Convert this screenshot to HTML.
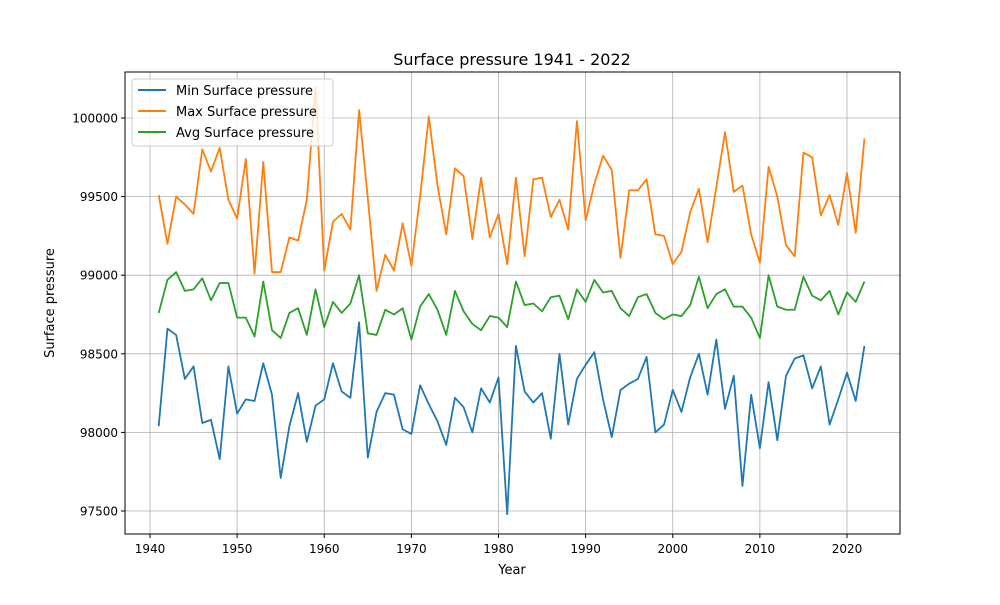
<!DOCTYPE html>
<html><head><meta charset="utf-8"><style>
body{margin:0;background:#fff;font-family:"Liberation Sans","DejaVu Sans",sans-serif}
svg text{font-family:"DejaVu Sans","Liberation Sans",sans-serif}
</style></head><body>
<svg id="chart" width="1000" height="600" xmlns="http://www.w3.org/2000/svg">
<rect width="1000" height="600" fill="#fff"/>
<g id="grid"></g>
<g id="series"></g>
<rect x="125" y="72" width="775" height="462" fill="none" stroke="#000" stroke-width="1"/>
<g id="ticks"></g>
<text x="512" y="65" text-anchor="middle" font-size="16">Surface pressure 1941 - 2022</text>
<text x="512" y="574" text-anchor="middle" font-size="13">Year</text>
<text transform="translate(54,303) rotate(-90)" text-anchor="middle" font-size="13">Surface pressure</text>
<g>
<rect x="132" y="79" width="201" height="67" rx="3" fill="#fff" fill-opacity="0.8" stroke="#ccc"/>
<line x1="138" y1="90" x2="166" y2="90" stroke="#1f77b4" stroke-width="2"/>
<text x="176" y="95" font-size="13">Min Surface pressure</text>
<line x1="138" y1="111" x2="166" y2="111" stroke="#ff7f0e" stroke-width="2"/>
<text x="176" y="116" font-size="13">Max Surface pressure</text>
<line x1="138" y1="132" x2="166" y2="132" stroke="#2ca02c" stroke-width="2"/>
<text x="176" y="137" font-size="13">Avg Surface pressure</text>
</g>
</svg>
<script>
const startYear = 1941;
const minValues = [98040,98660,98620,98340,98420,98060,98080,97830,98420,98120,98210,98200,98440,98240,97710,98040,98250,97940,98170,98210,98440,98260,98220,98700,97840,98130,98250,98240,98020,97990,98300,98180,98070,97920,98220,98160,98000,98280,98190,98350,97480,98550,98260,98190,98250,97960,98500,98050,98340,98430,98510,98210,97970,98270,98310,98340,98480,98000,98050,98270,98130,98350,98500,98240,98590,98150,98360,97660,98240,97900,98320,97950,98360,98470,98490,98280,98420,98050,98210,98380,98200,98550];
const maxValues = [99510,99200,99500,99450,99390,99800,99660,99810,99480,99360,99740,99010,99720,99020,99020,99240,99220,99480,100200,99030,99340,99390,99290,100050,99490,98900,99130,99030,99330,99060,99500,100010,99570,99260,99680,99630,99230,99620,99240,99390,99070,99620,99120,99610,99620,99370,99480,99290,99980,99350,99580,99760,99670,99110,99540,99540,99610,99260,99250,99070,99150,99400,99550,99210,99560,99910,99530,99570,99260,99080,99690,99500,99190,99120,99780,99750,99380,99510,99320,99650,99270,99870];
const avgValues = [98760,98970,99020,98900,98910,98980,98840,98950,98950,98730,98730,98610,98960,98650,98600,98760,98790,98620,98910,98670,98830,98760,98820,99000,98630,98620,98780,98750,98790,98590,98800,98880,98780,98620,98900,98770,98690,98650,98740,98730,98670,98960,98810,98820,98770,98860,98870,98720,98910,98830,98970,98890,98900,98790,98740,98860,98880,98760,98720,98750,98740,98810,98990,98790,98880,98910,98800,98800,98730,98600,99000,98800,98780,98780,98990,98870,98840,98900,98750,98890,98830,98960];
const xTicks = [1940,1950,1960,1970,1980,1990,2000,2010,2020];
const yTicks = [97500,98000,98500,99000,99500,100000];

const NS="http://www.w3.org/2000/svg";
const X = yr => 150 + (yr-1940)*8.7125;
const Y = v => 118 + (100000-v)*0.1572;
function mk(tag, attrs, parent){const e=document.createElementNS(NS,tag);for(const k in attrs)e.setAttribute(k,attrs[k]);parent.appendChild(e);return e;}
const grid=document.getElementById('grid'), ticks=document.getElementById('ticks'), series=document.getElementById('series');
xTicks.forEach(t=>{
  const x=X(t);
  const g=mk('line',{x1:x,x2:x,y1:72,y2:534,stroke:'#b0b0b0','stroke-width':0.8},grid);
  
  
  mk('line',{x1:x,x2:x,y1:534,y2:538,stroke:'#000'},ticks);
  const tx=mk('text',{x:x,y:553,'text-anchor':'middle','font-size':12},ticks);
  tx.textContent=t;
  
  
});
yTicks.forEach(t=>{
  const y=Y(t);
  const g=mk('line',{x1:125,x2:900,y1:y,y2:y,stroke:'#b0b0b0','stroke-width':0.8},grid);
  
  
  mk('line',{x1:121,x2:125,y1:y,y2:y,stroke:'#000'},ticks);
  const tx=mk('text',{x:118,y:y+4.5,'text-anchor':'end','font-size':12},ticks);
  tx.textContent=t;
  
  
});
[[minValues,'#1f77b4','min-line'],[maxValues,'#ff7f0e','max-line'],[avgValues,'#2ca02c','avg-line']].forEach(([vals,c,n])=>{
  const pts=vals.map((v,i)=>X(startYear+i).toFixed(2)+','+Y(v).toFixed(2)).join(' ');
  const p=mk('polyline',{points:pts,fill:'none',stroke:c,'stroke-width':1.8,'stroke-linejoin':'round'},series);
  
  
});
</script>
</body></html>
